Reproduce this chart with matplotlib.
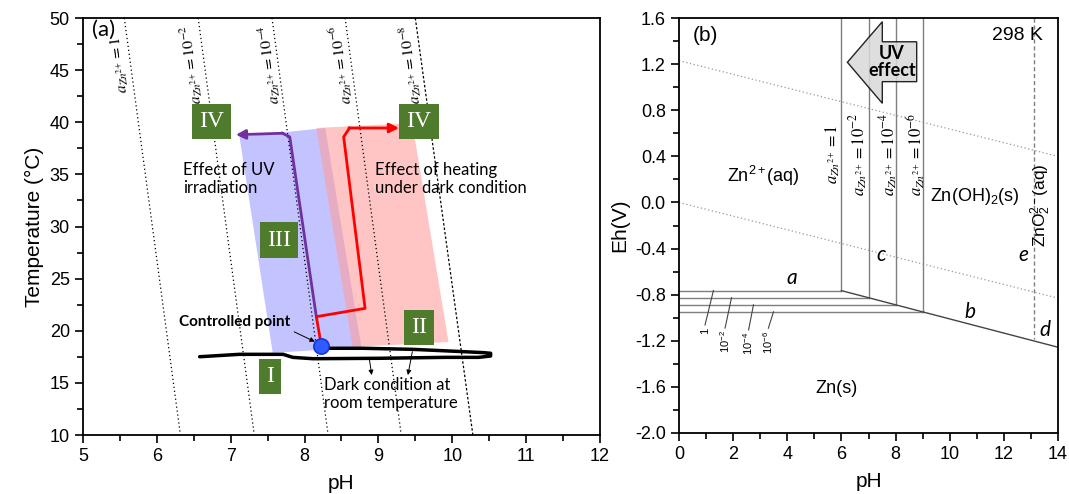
import numpy as np
import matplotlib
matplotlib.use("Agg")
import matplotlib.pyplot as plt
from matplotlib.patches import Polygon
from matplotlib.ticker import MultipleLocator, FormatStrFormatter

plt.rcParams["font.family"] = ["Liberation Sans", "DejaVu Sans"]
plt.rcParams["mathtext.fontset"] = "stix"
plt.rcParams["axes.unicode_minus"] = False

NOTE_FONT = ["Lato", "DejaVu Sans"]
ROMAN_FONT = ["Liberation Serif", "DejaVu Serif"]
BOX_GREEN = "#4f7b2c"

# ---------------- panel (a): T vs pH ----------------
# activity lines: pH at T = 50 and T = 10
act_labels = ["1", "10^{-2}", "10^{-4}", "10^{-6}", "10^{-8}"]
act_ph_top = [5.56, 6.56, 7.56, 8.55, 9.50]
act_ph_bot = [6.32, 7.32, 8.32, 9.31, 10.28]
act_T = [50, 10]
act_label_ph = [5.50, 6.47, 7.53, 8.50, 9.44]
act_label_T = 45.5

# shaded regions
uv_band_ph = [7.12, 8.28, 8.77, 7.57]
uv_band_T = [38.6, 39.45, 18.44, 17.87]
heat_band_ph = [8.16, 9.46, 9.95, 8.65]
heat_band_T = [39.45, 39.93, 18.92, 18.44]

# paths
uv_path_ph = [8.16, 7.80, 7.70, 7.07]
uv_path_T = [21.35, 38.6, 38.95, 38.8]
heat_path_ph = [8.23, 8.16, 8.82, 8.53, 8.61, 9.28]
heat_path_T = [18.5, 21.35, 22.15, 38.6, 39.45, 39.45]

# dark / room temperature outline
room_ph = [6.58, 7.12, 7.71, 7.84, 8.11, 9.01, 9.91, 10.36, 10.52, 10.52,
           10.43, 10.14, 9.46, 8.79, 8.31]
room_T = [17.51, 17.74, 17.74, 17.45, 17.32, 17.36, 17.45, 17.45, 17.58, 17.84,
          17.90, 18.00, 18.22, 18.32, 18.32]

ctrl_ph, ctrl_T = 8.23, 18.5

stage_labels = ["IV", "IV", "III", "II", "I"]
stage_ph = [6.74, 9.55, 7.66, 9.55, 7.53]
stage_T = [40.1, 40.1, 28.7, 20.3, 15.6]

# ---------------- panel (b): Eh vs pH ----------------
water_ph = [0, 14]
o2_E = [1.23, 0.40]
h2_E = [0.0, -0.83]

zn_ph = [6, 7, 8, 9]
zn_E = [-0.765, -0.826, -0.888, -0.949]
zn_act = ["1", "10^{-2}", "10^{-4}", "10^{-6}"]
b_ph = [6, 14]
b_E = [-0.765, -1.256]
zno2_ph = 13.1
zno2_E = -1.184

# leader lines for the Zn/Zn2+ activity labels
lead_ph0 = [1.27, 1.94, 2.75, 3.49]
lead_ph1 = [0.96, 1.70, 2.57, 3.30]
lead_E1 = [-1.063, -1.09, -1.106, -1.091]
lead_lbl = ["1", r"10$\mathregular{^{-2}}$", r"10$\mathregular{^{-4}}$",
            r"10$\mathregular{^{-6}}$"]

act_b_ph = [5.67, 6.64, 7.76, 8.74]
act_b_E = 0.42

uv_arrow_ph = [6.22, 7.51, 7.51, 8.78, 8.78, 7.51, 7.51]
uv_arrow_E = [1.216, 1.568, 1.394, 1.394, 1.048, 1.048, 0.860]

fig = plt.figure(figsize=(10.69, 4.94), dpi=100)
ax1 = fig.add_axes([0.0776, 0.1194, 0.4836, 0.8441])
ax2 = fig.add_axes([0.6352, 0.1235, 0.3545, 0.8400])

# ---- panel (a)
for i in range(len(act_labels)):
    ls = (0, (1, 2.2)) if i < 4 else (0, (2, 1.6))
    ax1.plot([act_ph_top[i], act_ph_bot[i]], act_T, color="black", lw=0.9,
             ls=ls, zorder=2)
    ax1.text(act_label_ph[i], act_label_T,
             r"$a_{Zn^{2+}} = " + act_labels[i] + "$",
             rotation=97.5, ha="center", va="center", fontsize=11.5, zorder=3)

ax1.add_patch(Polygon(np.column_stack([uv_band_ph, uv_band_T]),
                      closed=True, facecolor="#c3c3ff", edgecolor="none", zorder=1))
ax1.add_patch(Polygon(np.column_stack([heat_band_ph, heat_band_T]),
                      closed=True, facecolor="#ff9e9e", alpha=0.6,
                      edgecolor="none", zorder=1))

ax1.plot(uv_path_ph[:-1], uv_path_T[:-1], color="#7030a0", lw=2, zorder=4)
ax1.annotate("", xy=(uv_path_ph[-1], uv_path_T[-1]),
             xytext=(uv_path_ph[-2] + 0.01, uv_path_T[-2]),
             arrowprops=dict(arrowstyle="-|>", color="#7030a0", lw=2,
                             mutation_scale=14, shrinkA=0, shrinkB=0), zorder=4)
ax1.plot(heat_path_ph[:-1], heat_path_T[:-1], color="red", lw=2, zorder=4)
ax1.annotate("", xy=(heat_path_ph[-1], heat_path_T[-1]),
             xytext=(heat_path_ph[-2] - 0.01, heat_path_T[-2]),
             arrowprops=dict(arrowstyle="-|>", color="red", lw=2,
                             mutation_scale=14, shrinkA=0, shrinkB=0), zorder=4)

ax1.plot(room_ph, room_T, color="black", lw=2.5, solid_capstyle="round",
         solid_joinstyle="round", zorder=4)
ax1.plot(ctrl_ph, ctrl_T, "o", ms=11, mfc="#2e5cff", mec="#1a35d8", mew=1.2,
         zorder=6)

for lbl, x, y in zip(stage_labels, stage_ph, stage_T):
    ax1.text(x, y, lbl, color="white", fontsize=17, family=ROMAN_FONT,
             ha="center", va="center", zorder=5,
             bbox=dict(boxstyle="square,pad=0.3", facecolor=BOX_GREEN,
                       edgecolor="none"))

ax1.text(6.36, 36.2, "Effect of UV\nirradiation", fontsize=12, family=NOTE_FONT,
         ha="left", va="top", linespacing=1.2, zorder=5)
ax1.text(8.95, 36.2, "Effect of heating\nunder dark condition", fontsize=12,
         family=NOTE_FONT, ha="left", va="top", linespacing=1.2, zorder=5)
ax1.text(8.26, 15.6, "Dark condition at\nroom temperature", fontsize=12,
         family=NOTE_FONT, ha="left", va="top", linespacing=1.2, zorder=5)
ax1.text(7.06, 20.85, "Controlled point", fontsize=11, family=NOTE_FONT,
         fontweight="bold", ha="center", va="center", zorder=5)
ax1.annotate("", xy=(8.14, 18.95), xytext=(7.86, 19.9),
             arrowprops=dict(arrowstyle="-|>", color="black", lw=0.7,
                             mutation_scale=7, shrinkA=0, shrinkB=0), zorder=5)
for x0, y0, x1, y1 in [(8.88, 17.2, 8.91, 15.75), (9.46, 18.0, 9.40, 15.75)]:
    ax1.annotate("", xy=(x1, y1), xytext=(x0, y0),
                 arrowprops=dict(arrowstyle="-|>", color="black", lw=0.7,
                                 mutation_scale=7, shrinkA=0, shrinkB=0), zorder=5)
ax1.text(5.12, 48.9, "(a)", fontsize=16, family=NOTE_FONT, ha="left", va="center")

ax1.set_xlim(5, 12)
ax1.set_ylim(10, 50)
ax1.xaxis.set_major_locator(MultipleLocator(1))
ax1.xaxis.set_minor_locator(MultipleLocator(0.5))
ax1.yaxis.set_major_locator(MultipleLocator(5))
ax1.yaxis.set_minor_locator(MultipleLocator(2.5))
ax1.set_xlabel("pH", fontsize=15, labelpad=6)
ax1.set_ylabel("Temperature (°C)", fontsize=15, labelpad=4)

# ---- panel (b)
ax2.plot(water_ph, o2_E, color="#999999", lw=0.9, ls=(0, (1, 2)), zorder=1)
ax2.plot(water_ph, h2_E, color="#999999", lw=0.9, ls=(0, (1, 2)), zorder=1)

line_grey = "#7f7f7f"
for x, e in zip(zn_ph, zn_E):
    ax2.plot([x, x], [1.6, e], color=line_grey, lw=1.0, zorder=2)
    ax2.plot([0, x], [e, e], color=line_grey, lw=1.0, zorder=2)
ax2.plot(b_ph, b_E, color="#444444", lw=1.0, zorder=2)
ax2.plot([zno2_ph, zno2_ph], [1.6, zno2_E], color=line_grey, lw=1.0,
         ls=(0, (3, 2)), zorder=2)

for x0, e0, x1, e1, lbl in zip(lead_ph0, zn_E, lead_ph1, lead_E1, lead_lbl):
    ax2.plot([x0, x1], [e0, e1], color="#444444", lw=0.8)
    ax2.text(x1, e1 - 0.02, lbl, rotation=90, ha="center", va="top", fontsize=8)

for x, lbl in zip(act_b_ph, zn_act):
    ax2.text(x, act_b_E, r"$a_{Zn^{2+}} = " + lbl + "$", rotation=90,
             ha="center", va="center", fontsize=12)

ax2.add_patch(Polygon(np.column_stack([uv_arrow_ph, uv_arrow_E]), closed=True,
                      facecolor="#d9d9d9", alpha=0.85, edgecolor="black",
                      lw=1.0, zorder=5))
ax2.text(7.86, 1.22, "UV\neffect", fontsize=13, family=NOTE_FONT,
         fontweight="bold", ha="center", va="center", linespacing=1.0, zorder=6)

ax2.text(3.10, 0.23, r"Zn$\mathregular{^{2+}}$(aq)", fontsize=13,
         ha="center", va="center")
ax2.text(10.94, 0.05, r"Zn(OH)$\mathregular{_2}$(s)", fontsize=13,
         ha="center", va="center")
ax2.text(13.38, -0.02, r"ZnO$\mathregular{_2^{2-}}$(aq)", fontsize=12.5,
         rotation=90, ha="center", va="center")
ax2.text(5.82, -1.61, "Zn(s)", fontsize=13, ha="center", va="center")
ax2.text(13.45, 1.45, "298 K", fontsize=14, ha="right", va="center")
ax2.text(0.52, 1.45, "(b)", fontsize=15, ha="left", va="center")
for lbl, x, y in [("a", 4.16, -0.657), ("b", 10.75, -0.947), ("c", 7.48, -0.455),
                  ("d", 13.5, -1.106), ("e", 12.74, -0.455)]:
    ax2.text(x, y, lbl, fontsize=15, style="italic", family=NOTE_FONT,
             ha="center", va="center")

ax2.set_xlim(0, 14)
ax2.set_ylim(-2.0, 1.6)
ax2.xaxis.set_major_locator(MultipleLocator(2))
ax2.xaxis.set_minor_locator(MultipleLocator(1))
ax2.yaxis.set_major_locator(MultipleLocator(0.4))
ax2.yaxis.set_minor_locator(MultipleLocator(0.2))
ax2.yaxis.set_major_formatter(FormatStrFormatter("%.1f"))
ax2.set_xlabel("pH", fontsize=15, labelpad=6)
ax2.set_ylabel("Eh(V)", fontsize=15, labelpad=4)

for ax in (ax1, ax2):
    for s in ax.spines.values():
        s.set_linewidth(1.3)
    ax.tick_params(which="both", direction="out", top=False, right=False,
                   labelsize=13, width=1.2)
    ax.tick_params(which="major", length=6)
    ax.tick_params(which="minor", length=4)

fig.savefig("out.png", dpi=100)
